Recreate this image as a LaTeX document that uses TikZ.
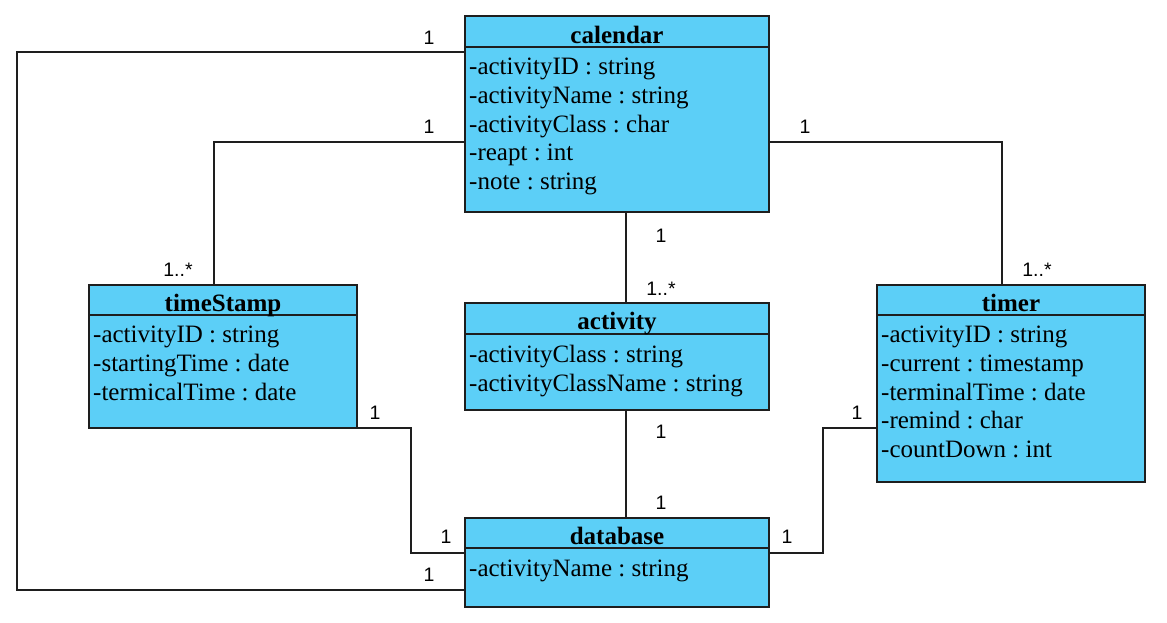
\documentclass[tikz,border=0pt]{standalone}
\usepackage{fontspec}
\setmainfont{Liberation Serif}
\newfontfamily\labfont{Liberation Sans}
\definecolor{umlblue}{RGB}{92,207,247}
\definecolor{umlline}{RGB}{30,30,30}
\begin{document}
\begin{tikzpicture}[x=1pt,y=-1pt,
  cls/.style={draw=umlline, line width=1.5pt, fill=umlblue, anchor=north west, inner sep=0pt, outer sep=0pt},
  sep/.style={draw=umlline, line width=1.5pt},
  ttl/.style={anchor=base, inner sep=0pt, font=\fontsize{25}{29}\selectfont\bfseries},
  attr/.style={anchor=north west, inner sep=0pt, align=left, font=\fontsize{25}{28.7}\selectfont\frenchspacing},
  conn/.style={draw=umlline, line width=1.5pt},
  mult/.style={inner sep=0pt, font=\labfont\fontsize{19.5}{22}\selectfont}]
\useasboundingbox (0,0) rectangle (1167,622);

% classes
\node[cls, minimum width=304pt, minimum height=196pt] (cal) at (465,16) {};
\node[cls, minimum width=268pt, minimum height=143pt] (ts) at (89,285) {};
\node[cls, minimum width=304pt, minimum height=107pt] (act) at (465,303) {};
\node[cls, minimum width=268pt, minimum height=197pt] (tim) at (877,285) {};
\node[cls, minimum width=304pt, minimum height=89pt] (db) at (465,518) {};

% header separators
\draw[sep] ([yshift=-31pt]cal.north west) -- ([yshift=-31pt]cal.north east);
\draw[sep] ([yshift=-30pt]ts.north west) -- ([yshift=-30pt]ts.north east);
\draw[sep] ([yshift=-31pt]act.north west) -- ([yshift=-31pt]act.north east);
\draw[sep] ([yshift=-30pt]tim.north west) -- ([yshift=-30pt]tim.north east);
\draw[sep] ([yshift=-30pt]db.north west) -- ([yshift=-30pt]db.north east);

% titles
\node[ttl] (calT) at ([yshift=-27pt]cal.north) {calendar};
\node[ttl] (tsT) at ([yshift=-26pt]ts.north) {timeStamp};
\node[ttl] (actT) at ([yshift=-26pt]act.north) {activity};
\node[ttl] (timT) at ([yshift=-26pt]tim.north) {timer};
\node[ttl] (dbT) at ([yshift=-26pt]db.north) {database};

% attributes
\node[attr] (calA) at ([xshift=4pt,yshift=-42pt]cal.north west) {-activityID : string\\-activityName : string\\-activityClass : char\\-reapt : int\\-note : string};
\node[attr] (tsA) at ([xshift=4pt,yshift=-41pt]ts.north west) {-activityID : string\\-startingTime : date\\-termicalTime : date};
\node[attr] (actA) at ([xshift=4pt,yshift=-42pt]act.north west) {-activityClass : string\\-activityClassName : string};
\node[attr] (timA) at ([xshift=4pt,yshift=-41pt]tim.north west) {-activityID : string\\-current : timestamp\\-terminalTime : date\\-remind : char\\-countDown : int};
\node[attr] (dbA) at ([xshift=4pt,yshift=-42pt]db.north west) {-activityName : string};

% connectors
\draw[conn] ([yshift=-36pt]cal.north west) -- ++(-448,0) |- ([yshift=-72pt]db.north west);
\draw[conn] ([yshift=-126pt]cal.north west) -| ([xshift=-9pt]ts.north);
\draw[conn] ([yshift=-126pt]cal.north east) -| ([xshift=-9pt]tim.north);
\draw[conn] ([xshift=9pt]cal.south) -- ([xshift=9pt]act.north);
\draw[conn] ([xshift=9pt]act.south) -- ([xshift=9pt]db.north);
\draw[conn] (ts.south east) -- ++(54,0) |- ([yshift=-35pt]db.north west);
\draw[conn] ([yshift=-143pt]tim.north west) -- ++(-54,0) |- ([yshift=-35pt]db.north east);

% multiplicities
\node[mult] (m1) at (429,38) {1};
\node[mult] (m2) at (429,127) {1};
\node[mult] (m3) at (178,270) {1..*};
\node[mult] (m4) at (805,127) {1};
\node[mult] (m5) at (1037,270) {1..*};
\node[mult] (m6) at (661,236) {1};
\node[mult] (m7) at (661,289) {1..*};
\node[mult] (m8) at (375,413) {1};
\node[mult] (m9) at (661,432) {1};
\node[mult] (m10) at (857,413) {1};
\node[mult] (m11) at (661,503) {1};
\node[mult] (m12) at (446,537) {1};
\node[mult] (m13) at (787,537) {1};
\node[mult] (m14) at (429,575) {1};
\end{tikzpicture}
\end{document}
